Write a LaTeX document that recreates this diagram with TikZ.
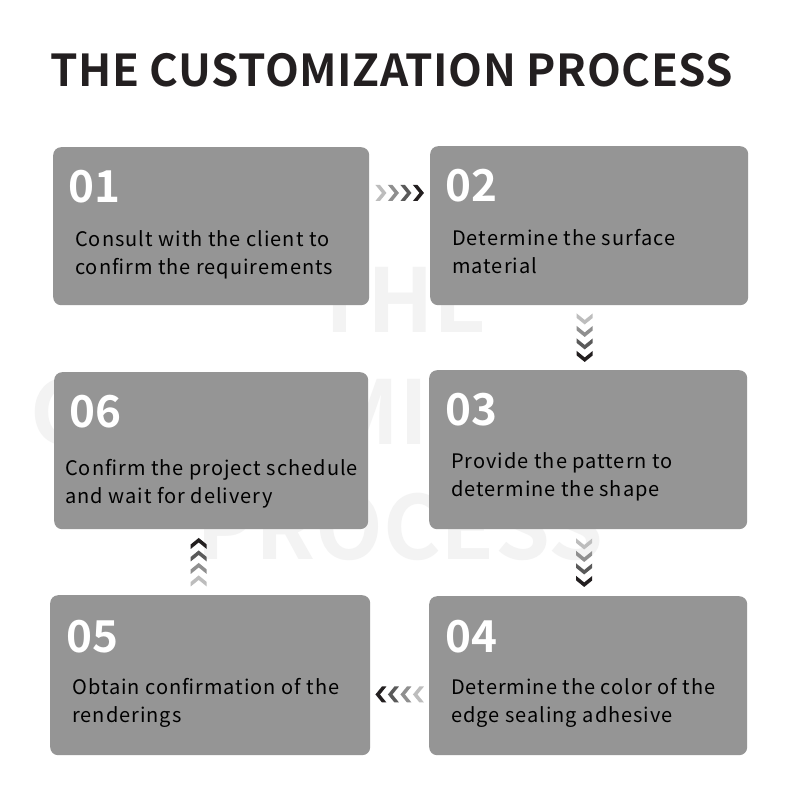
\documentclass[tikz,border=0pt]{standalone}
\usepackage{fontspec}
\setmainfont{Noto Sans CJK SC}[BoldFont={Noto Sans CJK SC Bold}]
\usetikzlibrary{calc}
\definecolor{boxgray}{HTML}{959595}
\definecolor{titlec}{HTML}{231F20}
\definecolor{wmark}{HTML}{F3F3F3}
\definecolor{ch1}{HTML}{BDBDBD}
\definecolor{ch2}{HTML}{8F8F8F}
\definecolor{ch3}{HTML}{5A5A5A}
\definecolor{ch4}{HTML}{231F20}
\tikzset{
  stepbox/.style={draw=none,fill=boxgray,rounded corners=8pt,inner sep=0pt,anchor=north west},
  numtxt/.style={anchor=base west,inner sep=0pt,text=white,font=\fontsize{44}{44}\selectfont\bfseries},
  bodytxt/.style={anchor=base west,inner sep=0pt,text=black,align=left,font=\addfontfeatures{LetterSpace=5}\fontsize{20}{28}\selectfont},
  wm/.style={text=wmark,inner sep=0pt,font=\fontsize{88}{88}\selectfont\bfseries}
}
% chevron pointing right, drawn at origin, width ~11, height 16
\newcommand{\chevR}[1]{\fill[#1] (-5.5,-8) -- (-1,-8) -- (5.5,0) -- (-1,8) -- (-5.5,8) -- (1,0) -- cycle;}
\begin{document}
\begin{tikzpicture}[x=1pt,y=-1pt]
\useasboundingbox (0,0) rectangle (800,800);
\fill[white] (0,0) rectangle (800,800);
% watermark
\node[wm] (wm1) at (400,300) {THE};
\node[wm] (wm2) at (390,412) {CUSTOMIZATION};
\node[wm] (wm3) at (400,527) {PROCESS};
% title
\node[anchor=base west,inner sep=0pt,text=titlec,font=\addfontfeatures{LetterSpace=1.3}\fontsize{44}{44}\selectfont\bfseries] (title) at (50,86) {THE CUSTOMIZATION PROCESS};
% boxes
\node[stepbox,minimum width=316pt,minimum height=158pt] (b1) at (53,147) {};
\node[stepbox,minimum width=318pt,minimum height=159pt] (b2) at (430,146) {};
\node[stepbox,minimum width=314pt,minimum height=157pt] (b6) at (54,372) {};
\node[stepbox,minimum width=318pt,minimum height=159pt] (b3) at (429,370) {};
\node[stepbox,minimum width=320pt,minimum height=160pt] (b5) at (50,595) {};
\node[stepbox,minimum width=318pt,minimum height=159pt] (b4) at (429,596) {};
% numbers
\node[numtxt] (n1) at (68,202) {01};
\node[numtxt] (n2) at (445,201) {02};
\node[numtxt] (n6) at (69,427) {06};
\node[numtxt] (n3) at (445,425) {03};
\node[numtxt] (n5) at (66,652) {05};
\node[numtxt] (n4) at (445,652) {04};
% texts (base = baseline of last line)
\node[bodytxt] (t1) at (75,274) {Consult with the client to\\confirm the requirements};
\node[bodytxt] (t2) at (452,273) {Determine the surface\\material};
\node[bodytxt] (t6) at (65,503) {Confirm the project schedule\\and wait for delivery};
\node[bodytxt] (t3) at (451,496) {Provide the pattern to\\determine the shape};
\node[bodytxt] (t5) at (72,722) {Obtain confirmation of the\\renderings};
\node[bodytxt] (t4) at (451,722) {Determine the color of the\\edge sealing adhesive};
% connectors (chevrons)
\coordinate (c12) at ($(b1.east)!0.5!(b2.west)+(0,-33)$);
\coordinate (c23) at ($(b2.south)!0.5!(b3.north)+(-4,0)$);
\coordinate (c34) at ($(b3.south)!0.5!(b4.north)+(-4,0)$);
\coordinate (c45) at ($(b4.west)!0.5!(b5.east)+(0,19)$);
\coordinate (c56) at ($(b5.north)!0.5!(b6.south)+(-12,0)$);
\foreach \i/\c in {0/ch1,1/ch2,2/ch3,3/ch4}{
  \begin{scope}[shift={($(c12)+(-18.75+12.5*\i,0)$)}] \chevR{\c} \end{scope}
  \begin{scope}[shift={($(c23)+(0,-18.75+12.5*\i)$)},rotate=-90] \chevR{\c} \end{scope}
  \begin{scope}[shift={($(c34)+(0,-18.75+12.5*\i)$)},rotate=-90] \chevR{\c} \end{scope}
  \begin{scope}[shift={($(c45)+(18.75-12.5*\i,0)$)},rotate=180] \chevR{\c} \end{scope}
  \begin{scope}[shift={($(c56)+(0,18.75-12.5*\i)$)},rotate=90] \chevR{\c} \end{scope}
}
\end{tikzpicture}
\end{document}
